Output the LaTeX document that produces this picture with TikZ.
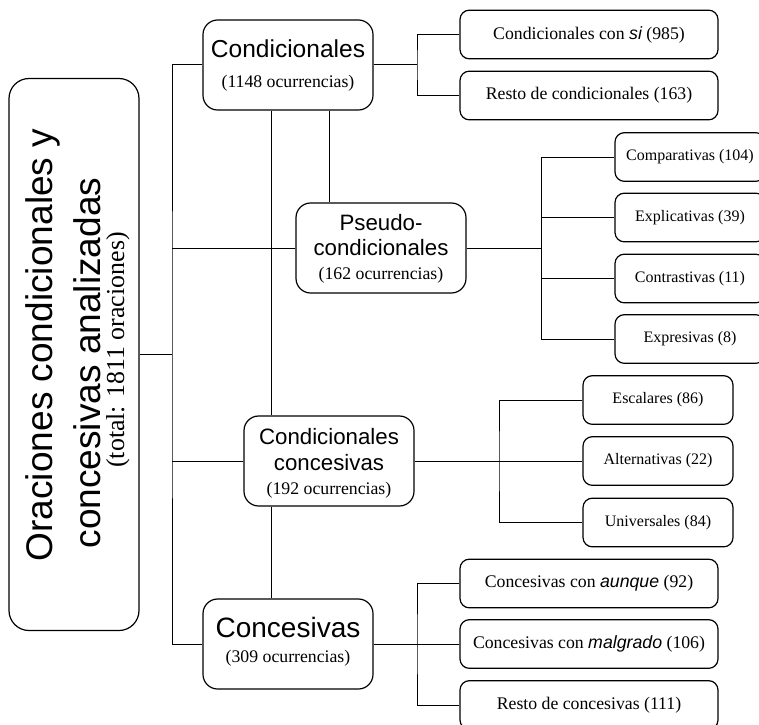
\documentclass[tikz,border=0pt]{standalone}
\usepackage{fontspec}
\setmainfont{Liberation Serif}
\setsansfont{Liberation Sans}
\newcommand{\sansit}[1]{{\sffamily\itshape #1}}
\begin{document}
\begin{tikzpicture}[x=0.75pt,y=-0.75pt,line width=0.75pt,
  box/.style={draw,line width=0.9pt,rounded corners=11pt,inner sep=0pt,minimum width=127.5pt,minimum height=67.5pt},
  leaf/.style={draw,line width=0.9pt,rounded corners=7pt,inner sep=0pt,align=center,minimum height=36.5pt},
  wide/.style={leaf,minimum width=193.5pt,font=\fontsize{13.3pt}{16pt}\selectfont},
  narrow/.style={leaf,minimum width=112.5pt,font=\fontsize{12pt}{14pt}\selectfont},
  hd/.style={anchor=base,inner sep=0pt,font=\sffamily\fontsize{#1}{#1}\selectfont},
  sub/.style={anchor=base,inner sep=0pt,font=\fontsize{#1}{#1}\selectfont},
  sub/.default=13.3pt
]
\useasboundingbox (0,0) rectangle (759,724);
\clip (0,0) rectangle (759,724);

% left box
\node[box,rounded corners=15pt,minimum width=97.5pt,minimum height=414pt] (main) at (74,354.5) {};
\node[hd=27.8pt,rotate=90] (t1) at (52,345) {Oraciones condicionales y};
\node[hd=27.8pt,rotate=90] (t2) at (100,363) {concesivas analizadas};
\node[sub=19.4pt,rotate=90] (t3) at (124,350) {(total: 1811 oraciones)};

% main category boxes
\node[box] (cond) at (288,65) {};
\node[hd=18.4pt] (condT) at (288,57.5) {Condicionales};
\node[sub] (condS) at (288,88) {(1148 ocurrencias)};

\node[box] (pseudo) at (381,248) {};
\node[hd=16.7pt] (pseudoA) at (381,230) {Pseudo-};
\node[hd=16.7pt] (pseudoB) at (381,255) {condicionales};
\node[sub] (pseudoS) at (381,279) {(162 ocurrencias)};

\node[box] (cc) at (329,461) {};
\node[hd=16.7pt] (ccA) at (329,444) {Condicionales};
\node[hd=16.7pt] (ccB) at (329,470) {concesivas};
\node[sub] (ccS) at (329,494) {(192 ocurrencias)};

\node[box] (conc) at (288,644) {};
\node[hd=21pt] (concT) at (288,637.5) {Concesivas};
\node[sub] (concS) at (288,662.5) {(309 ocurrencias)};

% leaves
\node[wide] (si) at (589,34.5) {Condicionales con \sansit{si} (985)};
\node[wide] (rc) at (589,95.5) {Resto de condicionales (163)};

\node[narrow] (comp) at (690,157) {Comparativas (104)};
\node[narrow] (expl) at (690,217.5) {Explicativas (39)};
\node[narrow] (contr) at (690,278.5) {Contrastivas (11)};
\node[narrow] (expr) at (690,339) {Expresivas (8)};

\node[narrow] (esc) at (658,400) {Escalares (86)};
\node[narrow] (alt) at (658,461) {Alternativas (22)};
\node[narrow] (univ) at (658,522.5) {Universales (84)};

\node[wide] (aun) at (589,583.5) {Concesivas con \sansit{aunque} (92)};
\node[wide] (mal) at (589,644) {Concesivas con \sansit{malgrado} (106)};
\node[wide] (rcon) at (589,705) {Resto de concesivas (111)};

% connectors
\coordinate (sp) at (172,355);
\draw (cond.west) -| (sp) |- (conc.west);
\draw (main.east) -- (main.east -| sp);
\draw (pseudo.west) -- (pseudo.west -| sp);
\draw (cc.west) -- (cc.west -| sp);

\coordinate (xa) at (271,0);
\coordinate (xb) at (329,0);
\draw (cond.south -| xa) -- (cc.north -| xa);
\draw (cc.south -| xa) -- (conc.north -| xa);
\draw (cond.south -| xb) -- (pseudo.north -| xb);

\coordinate (b1) at (417,65);
\draw (cond.east) -- (b1);
\draw (si.west) -| (b1) |- (rc.west);

\coordinate (b2) at (541,248);
\draw (pseudo.east) -- (b2);
\draw (comp.west) -| (b2) |- (expr.west);
\draw (expl.west) -- (expl.west -| b2);
\draw (contr.west) -- (contr.west -| b2);

\coordinate (b3) at (499,461);
\draw (cc.east) -- (alt.west);
\draw (esc.west) -| (b3) |- (univ.west);

\coordinate (b4) at (417,644);
\draw (conc.east) -- (mal.west);
\draw (aun.west) -| (b4) |- (rcon.west);
\end{tikzpicture}
\end{document}
